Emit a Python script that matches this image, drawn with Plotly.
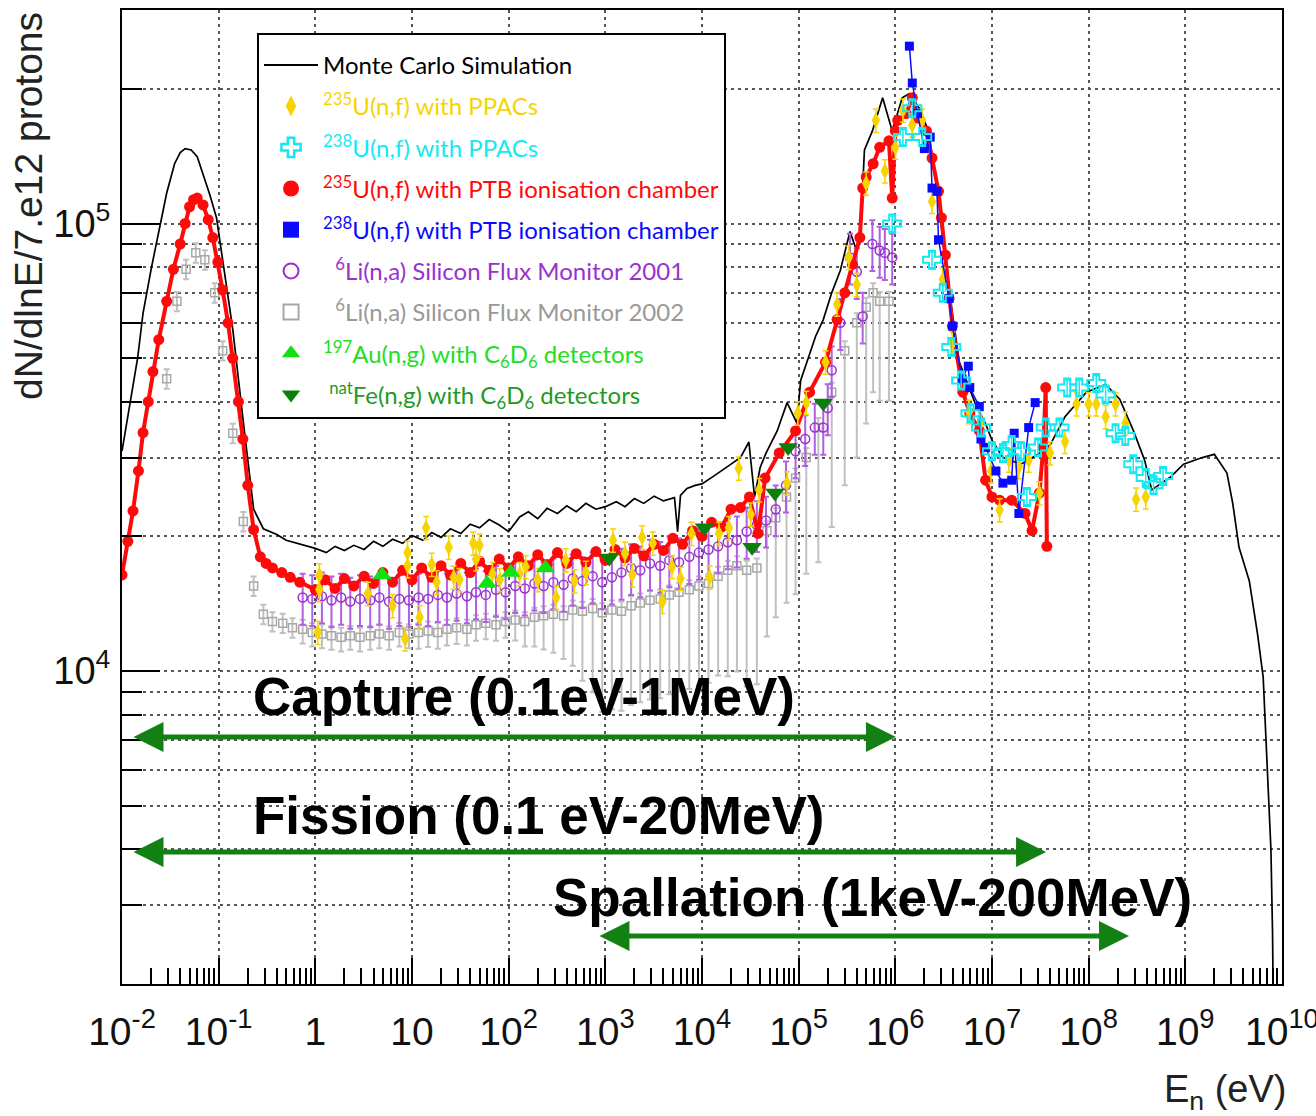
import plotly.graph_objects as go

# Monte Carlo simulation (black line)
mc_energy = [0.010, 0.012, 0.0145, 0.0165, 0.020, 0.025, 0.029, 0.035, 0.040, 0.045, 0.052, 0.060,
             0.070, 0.081, 0.095, 0.11, 0.14, 0.18, 0.23, 0.29, 0.40, 0.50, 0.70,
             1.0, 1.3, 1.6, 2.0, 2.5, 3.2, 4.0, 5.0, 6.3, 8.0, 10, 13, 16, 20, 25, 32, 40, 50, 63, 80,
             100, 130, 160, 200, 250, 320, 400, 500, 630, 800, 1000, 1300, 1600, 2000, 2500, 3200,
             4000, 5200, 5600, 6000, 7000, 8500, 1.0e4, 1.3e4, 1.6e4, 2.0e4, 2.5e4, 3.06e4, 3.5e4,
             4.0e4, 4.6e4, 6.0e4, 7.6e4, 9.6e4, 1.05e5, 1.25e5, 1.5e5, 1.8e5, 2.2e5, 2.7e5, 3.4e5,
             3.9e5, 4.3e5, 4.8e5, 5.8e5, 7.4e5, 8.3e5, 9.3e5, 1.18e6, 1.4e6, 1.8e6, 2.2e6, 2.8e6,
             3.3e6, 4.6e6, 6.7e6, 8.6e6, 1.0e7, 1.3e7, 2.0e7, 3.0e7, 4.0e7, 5.7e7, 9.5e7, 1.5e8,
             2.1e8, 2.9e8, 3.8e8, 4.5e8, 7.0e8, 9.6e8, 1.5e9, 2.0e9, 2.7e9, 3.1e9, 3.6e9, 4.6e9,
             5.6e9, 6.4e9, 7.0e9, 7.7e9, 8.0e9, 8.1e9]
mc_flux = [3.1e4, 3.9e4, 5.0e4, 6.3e4, 7.9e4, 1.0e5, 1.17e5, 1.36e5, 1.44e5, 1.47e5, 1.46e5, 1.41e5,
           1.28e5, 1.16e5, 1.03e5, 8.3e4, 5.8e4, 3.6e4, 2.3e4, 2.08e4, 2.02e4, 1.96e4, 1.92e4,
           1.88e4, 1.84e4, 1.90e4, 1.86e4, 1.91e4, 1.87e4, 1.95e4, 1.90e4, 1.97e4, 1.93e4, 2.01e4,
           1.96e4, 2.04e4, 1.99e4, 2.08e4, 2.03e4, 2.13e4, 2.09e4, 2.18e4, 2.12e4,
           2.05e4, 2.21e4, 2.27e4, 2.19e4, 2.31e4, 2.25e4, 2.34e4, 2.27e4, 2.37e4, 2.30e4, 2.33e4,
           2.39e4, 2.33e4, 2.43e4, 2.37e4, 2.46e4,
           2.40e4, 2.44e4, 2.05e4, 2.47e4, 2.56e4, 2.60e4, 2.62e4, 2.72e4, 2.80e4, 2.90e4, 3.00e4,
           3.25e4, 2.45e4,
           2.85e4, 3.07e4, 3.44e4, 3.98e4, 3.58e4, 4.46e4, 5.0e4, 5.6e4, 6.1e4, 7.0e4, 7.85e4, 9.6e4,
           8.8e4, 9.0e4, 1.46e5, 1.61e5, 1.91e5, 1.76e5, 1.61e5, 1.91e5, 1.95e5, 1.80e5, 1.61e5,
           1.14e5, 8.1e4, 4.9e4, 3.97e4, 3.57e4, 3.28e4, 3.0e4, 2.9e4, 3.05e4, 3.2e4, 3.7e4, 4.2e4,
           4.37e4, 4.05e4, 3.45e4, 2.96e4, 2.54e4, 2.71e4, 2.9e4, 3.0e4, 3.05e4, 2.77e4, 2.37e4,
           1.89e4, 1.59e4, 1.21e4, 9.7e3, 6.2e3, 4.0e3, 2.6e3, 2.0e3]

# 235U(n,f) with PTB ionisation chamber (red)
red_energy = [0.010, 0.0115, 0.013, 0.0148, 0.0165, 0.0187, 0.0209, 0.024, 0.029, 0.034, 0.040,
              0.045, 0.050, 0.055, 0.060, 0.069, 0.078, 0.087, 0.098, 0.11, 0.125, 0.14, 0.16,
              0.178, 0.20, 0.23, 0.27, 0.31, 0.36, 0.45, 0.55, 0.69,
              1.0, 1.26, 1.6, 2.0, 2.5, 3.2, 4.0, 5.0, 6.3, 8.0, 10, 12.6, 16, 20, 25, 32, 40, 50,
              63, 80, 100, 126, 160, 200, 250, 320, 400, 500, 630, 800, 1000, 1260, 1600, 2000,
              2500, 3200, 4000, 5000, 6300, 8000, 1.0e4, 1.26e4, 1.6e4, 2.0e4, 2.5e4, 3.1e4, 3.8e4,
              4.5e4, 6.3e4, 9.3e4, 1.3e5, 1.9e5, 2.5e5, 3.0e5, 3.6e5, 4.3e5, 4.6e5, 5.0e5, 5.9e5,
              6.9e5, 8.6e5, 9.3e5, 1.0e6, 1.06e6, 1.3e6, 1.5e6, 1.7e6, 2.1e6, 2.4e6, 2.8e6, 3.0e6,
              3.3e6, 3.6e6, 3.9e6, 5.0e6, 5.9e6, 7.4e6, 8.6e6, 1.0e7, 1.2e7, 1.6e7, 2.2e7, 2.6e7,
              3.1e7, 3.4e7, 3.6e7, 3.7e7]
red_flux = [1.64e4, 1.95e4, 2.28e4, 2.8e4, 3.41e4, 4.0e4, 4.67e4, 5.5e4, 6.7e4, 7.9e4, 9.0e4,
            1.0e5, 1.09e5, 1.13e5, 1.14e5, 1.10e5, 1.02e5, 9.3e4, 8.2e4, 7.1e4, 6.0e4, 5.0e4, 4.0e4,
            3.3e4, 2.6e4, 2.07e4, 1.80e4, 1.74e4, 1.70e4, 1.66e4, 1.62e4, 1.58e4,
            1.52e4, 1.60e4, 1.53e4, 1.61e4, 1.55e4, 1.63e4, 1.57e4, 1.66e4, 1.58e4, 1.68e4, 1.60e4,
            1.70e4, 1.62e4, 1.72e4, 1.64e4, 1.74e4, 1.66e4, 1.76e4, 1.68e4, 1.78e4, 1.70e4, 1.80e4,
            1.72e4, 1.82e4, 1.73e4, 1.84e4, 1.74e4, 1.83e4, 1.75e4, 1.85e4, 1.77e4, 1.87e4, 1.79e4,
            1.88e4, 1.81e4, 1.92e4, 1.86e4, 1.98e4, 1.92e4, 2.06e4, 2.0e4, 2.15e4, 2.1e4, 2.3e4,
            2.32e4, 2.45e4, 2.03e4, 2.7e4, 3.07e4, 3.44e4, 4.2e4, 4.9e4, 6.1e4, 7.0e4, 8.1e4, 9.3e4,
            1.20e5, 1.27e5, 1.36e5, 1.48e5, 1.53e5, 1.14e5, 1.61e5, 1.70e5, 1.76e5, 1.91e5, 1.72e5,
            1.61e5, 1.40e5, 1.18e5, 1.03e5, 8.5e4, 6.8e4, 5.9e4, 4.2e4, 3.77e4, 3.45e4, 2.67e4,
            2.45e4, 2.41e4, 2.41e4, 2.25e4, 2.06e4, 2.5e4, 3.16e4, 4.3e4, 1.9e4]

# 238U(n,f) with PTB ionisation chamber (blue)
blue_energy = [1.4e6, 1.5e6, 1.7e6, 2.0e6, 2.3e6, 2.4e6, 2.7e6, 2.8e6, 3.6e6, 3.9e6, 4.9e6, 5.7e6,
               5.9e6, 7.4e6, 7.7e6, 8.6e6, 1.1e7, 1.3e7, 1.6e7, 1.7e7, 1.9e7, 2.4e7, 2.8e7]
blue_flux = [2.49e5, 2.06e5, 1.76e5, 1.47e5, 1.56e5, 1.20e5, 1.18e5, 9.2e4, 6.8e4, 5.9e4, 4.5e4,
             4.8e4, 4.3e4, 3.9e4, 3.3e4, 3.16e4, 2.8e4, 2.63e4, 2.67e4, 3.4e4, 2.25e4, 3.5e4, 3.98e4]

# 235U(n,f) with PPACs (yellow)
yellow_energy = [1.06, 1.1, 1.1, 3.5, 6.3, 8.5, 9.0, 9.0, 12, 14, 16, 18, 24, 27, 31, 43, 46, 50,
                 68, 81, 130, 150, 200, 310, 390, 480, 630, 1200, 1600, 1900, 2400, 3100, 3900,
                 4900, 6000, 7800, 1.2e4, 1.5e4, 1.9e4, 2.4e4, 3.2e4, 3.9e4, 7.6e4, 9.8e4, 1.2e5,
                 1.9e5, 2.5e5, 3.3e5, 4.0e5, 5.0e5, 6.3e5, 7.8e5, 1.0e6, 1.2e6, 1.5e6, 1.9e6, 2.4e6,
                 3.1e6, 3.9e6, 5.8e6, 7.7e6, 9.8e6, 1.2e7, 1.5e7, 1.9e7, 2.4e7, 3.1e7, 4.0e7, 5.7e7,
                 7.5e7, 1.0e8, 1.2e8, 1.5e8, 1.9e8, 2.4e8, 3.1e8, 3.9e8]
yellow_flux = [1.22e4, 1.52e4, 1.64e4, 1.49e4, 1.40e4, 1.18e4, 1.72e4, 1.84e4, 1.32e4, 2.09e4,
               1.73e4, 1.58e4, 1.89e4, 1.62e4, 1.60e4, 1.93e4, 1.78e4, 1.91e4, 1.65e4, 1.60e4,
               1.65e4, 1.71e4, 1.60e4, 1.46e4, 1.77e4, 1.59e4, 1.66e4, 1.96e4, 1.83e4, 1.64e4,
               1.99e4, 1.93e4, 1.43e4, 1.71e4, 1.61e4, 2.03e4, 1.62e4, 2.03e4, 2.09e4, 2.84e4,
               2.24e4, 2.54e4, 2.63e4, 3.77e4, 3.98e4, 4.9e4, 6.6e4, 8.4e4, 7.3e4, 1.23e5, 1.70e5,
               1.31e5, 1.48e5, 1.79e5, 1.66e5, 1.70e5, 1.12e5, 7.5e4, 5.4e4, 3.8e4, 3.6e4, 2.8e4,
               2.29e4, 2.96e4, 2.86e4, 2.96e4, 2.5e4, 3.07e4, 3.26e4, 3.95e4, 3.95e4, 3.95e4,
               3.7e4, 3.95e4, 3.58e4, 2.42e4, 2.45e4]

# 238U(n,f) with PPACs (cyan)
cyan_energy = [9.3e5, 1.2e6, 1.5e6, 1.9e6, 2.4e6, 3.1e6, 3.8e6, 4.8e6, 6.0e6, 7.7e6, 1.0e7, 1.3e7,
               1.6e7, 2.0e7, 2.3e7, 3.0e7, 3.6e7, 5.0e7, 6.0e7, 8.0e7, 1.2e8, 1.5e8, 1.9e8, 2.4e8,
               2.9e8, 3.9e8, 4.7e8, 5.9e8]
cyan_flux = [1.0e5, 1.56e5, 1.81e5, 1.56e5, 8.3e4, 7.0e4, 5.3e4, 4.46e4, 3.77e4, 3.5e4, 3.1e4,
             3.07e4, 3.2e4, 3.1e4, 2.45e4, 3.16e4, 3.5e4, 3.5e4, 4.3e4, 4.3e4, 4.4e4, 4.15e4, 3.4e4,
             3.35e4, 2.9e4, 2.7e4, 2.6e4, 2.73e4]

# 6Li(n,a) Silicon Flux Monitor 2001 (purple)
purple_energy = [0.74, 0.93, 1.17, 1.47, 1.85, 2.3, 2.9, 3.7, 4.6, 5.8, 7.4, 9.3, 11.7, 14.7, 18.5,
                 23, 29, 37, 46, 58, 74, 93, 117, 147, 185, 230, 290, 370, 460, 580, 740, 930, 1170,
                 1470, 1850, 2300, 2900, 3700, 4600, 5800, 7400, 9300, 1.17e4, 1.47e4, 1.85e4,
                 2.3e4, 2.9e4, 3.7e4, 4.6e4, 5.8e4, 7.4e4, 9.3e4, 1.17e5, 1.47e5, 1.8e5, 2.0e5,
                 2.2e5, 2.7e5, 3.4e5, 4.0e5, 4.6e5, 5.8e5, 6.9e5, 7.8e5, 9.3e5]
purple_flux = [1.46e4, 1.45e4, 1.47e4, 1.44e4, 1.46e4, 1.43e4, 1.45e4, 1.44e4, 1.46e4, 1.43e4,
               1.45e4, 1.44e4, 1.46e4, 1.45e4, 1.48e4, 1.46e4, 1.49e4, 1.47e4, 1.50e4, 1.48e4,
               1.52e4, 1.50e4, 1.55e4, 1.53e4, 1.57e4, 1.55e4, 1.58e4, 1.56e4, 1.61e4, 1.59e4,
               1.63e4, 1.58e4, 1.62e4, 1.66e4, 1.70e4, 1.68e4, 1.74e4, 1.72e4, 1.77e4, 1.75e4,
               1.80e4, 1.84e4, 1.87e4, 1.90e4, 1.94e4, 1.96e4, 2.05e4, 2.12e4, 2.17e4, 2.30e4,
               2.6e4, 3.1e4, 3.3e4, 3.5e4, 3.5e4, 3.87e4, 4.7e4, 6.0e4, 8.4e4, 7.8e4, 6.2e4, 9.0e4,
               8.7e4, 8.6e4, 8.4e4]

# 6Li(n,a) Silicon Flux Monitor 2002 (grey), with asymmetric relative errors
grey_energy = [0.029, 0.037, 0.046, 0.058, 0.072, 0.091, 0.11, 0.14, 0.18, 0.23, 0.29, 0.36, 0.46,
               0.58, 0.74, 0.93, 1.17, 1.47, 1.85, 2.3, 2.9, 3.7, 4.6, 5.8, 7.4, 9.3, 11.7, 14.7,
               18.5, 23, 29, 37, 46, 58, 74, 93, 117, 147, 185, 230, 290, 370, 460, 580, 740, 930,
               1170, 1470, 1850, 2300, 2900, 3700, 4600, 5800, 7400, 9300, 1.17e4, 1.47e4, 1.85e4,
               2.3e4, 2.9e4, 3.7e4, 4.7e4, 5.8e4, 7.5e4, 9.3e4, 1.2e5, 1.6e5, 2.2e5, 3.0e5, 4.0e5,
               5.0e5, 5.9e5, 6.9e5, 8.6e5]
grey_flux = [4.5e4, 6.7e4, 7.9e4, 8.6e4, 8.3e4, 7.0e4, 5.2e4, 3.4e4, 2.16e4, 1.55e4, 1.34e4, 1.29e4,
             1.28e4, 1.25e4,
             1.24e4, 1.22e4, 1.21e4, 1.20e4, 1.19e4, 1.20e4, 1.19e4, 1.20e4, 1.21e4, 1.20e4, 1.22e4,
             1.21e4,
             1.22e4, 1.23e4, 1.22e4, 1.24e4, 1.25e4, 1.24e4, 1.27e4, 1.28e4, 1.27e4, 1.29e4,
             1.30e4, 1.29e4, 1.32e4, 1.33e4, 1.34e4, 1.33e4, 1.37e4, 1.36e4, 1.38e4, 1.35e4,
             1.37e4, 1.36e4, 1.40e4, 1.42e4, 1.44e4, 1.45e4, 1.48e4, 1.50e4, 1.52e4, 1.55e4,
             1.57e4, 1.63e4, 1.68e4, 1.72e4, 1.68e4, 1.70e4, 2.06e4, 2.2e4, 2.45e4, 2.7e4,
             3.0e4, 3.5e4, 4.2e4, 5.2e4, 6.0e4, 6.5e4, 7.0e4, 6.7e4, 6.7e4]
grey_err_low = [0.05] * 14 + [0.07] * 12 + [0.08] * 10 + \
               [0.10, 0.12, 0.14, 0.16, 0.18, 0.20, 0.25, 0.30, 0.35, 0.40] + [0.40] * 10 + \
               [0.40, 0.40, 0.42, 0.42, 0.45, 0.45, 0.42, 0.40, 0.42, 0.45] + \
               [0.45, 0.50, 0.50, 0.50, 0.50, 0.45, 0.40, 0.40, 0.40]
grey_err_high = [0.05] * 75

# 197Au(n,g) and natFe(n,g) with C6D6 detectors
au_energy = [4.9, 60, 105, 240]
au_flux = [1.64e4, 1.57e4, 1.66e4, 1.70e4]
fe_energy = [1.1e3, 1.06e4, 3.3e4, 5.7e4, 7.8e4, 1.8e5]
fe_flux = [1.79e4, 2.09e4, 1.89e4, 2.5e4, 3.16e4, 3.97e4]

# axis ticks
x_tickvals = [1e-2, 1e-1, 1, 10, 1e2, 1e3, 1e4, 1e5, 1e6, 1e7, 1e8, 1e9, 1e10]
x_ticktext = ['10<sup>-2</sup>', '10<sup>-1</sup>', '1', '10', '10<sup>2</sup>', '10<sup>3</sup>',
              '10<sup>4</sup>', '10<sup>5</sup>', '10<sup>6</sup>', '10<sup>7</sup>',
              '10<sup>8</sup>', '10<sup>9</sup>', '10<sup>10</sup>']
y_tickvals = [1e4, 1e5]
y_ticktext = ['10<sup>4</sup>', '10<sup>5</sup>']

YELLOW = '#f5d400'
CYAN = '#14e8f0'
RED = '#ff0a0a'
BLUE = '#0a0aff'
PURPLE = '#9932cc'
GREY = '#a8a8a8'
LGREEN = '#11e011'
DGREEN = '#0a800a'
ARROW = '#128012'

AXFONT = 'Liberation Sans, Arial'
GRID = dict(showgrid=True, gridcolor='#555555', gridwidth=1.5, griddash='3px,4px')

fig = go.Figure()

fig.add_trace(go.Scatter(x=mc_energy, y=mc_flux, mode='lines', showlegend=False,
                         line=dict(color='black', width=1.7)))
fig.add_trace(go.Scatter(
    x=grey_energy, y=grey_flux, mode='markers', showlegend=False,
    marker=dict(symbol='square-open', size=8, color=GREY, line=dict(width=1.5)),
    error_y=dict(type='data', symmetric=False,
                 array=[v * f for v, f in zip(grey_flux, grey_err_high)],
                 arrayminus=[v * f for v, f in zip(grey_flux, grey_err_low)],
                 color='#c0c0c0', thickness=2, width=3)))
fig.add_trace(go.Scatter(
    x=purple_energy, y=purple_flux, mode='markers', showlegend=False,
    marker=dict(symbol='circle-open', size=9, color=PURPLE, line=dict(width=1.5)),
    error_y=dict(type='percent', value=13, color='#b060e0', thickness=2, width=3)))
fig.add_trace(go.Scatter(
    x=red_energy, y=red_flux, mode='lines+markers', showlegend=False,
    line=dict(color=RED, width=4),
    marker=dict(symbol='circle', size=11, color=RED)))
fig.add_trace(go.Scatter(
    x=yellow_energy, y=yellow_flux, mode='markers', showlegend=False,
    marker=dict(symbol='diamond-tall', size=12, color=YELLOW),
    error_y=dict(type='percent', value=6, color=YELLOW, thickness=1.5, width=3)))
fig.add_trace(go.Scatter(
    x=blue_energy, y=blue_flux, mode='lines+markers', showlegend=False,
    line=dict(color=BLUE, width=1.5),
    marker=dict(symbol='square', size=9, color=BLUE)))
fig.add_trace(go.Scatter(
    x=cyan_energy, y=cyan_flux, mode='markers', showlegend=False,
    marker=dict(symbol='cross-open', size=15, color=CYAN, line=dict(width=2)),
    error_y=dict(type='percent', value=4, color=CYAN, thickness=1.5, width=3)))
fig.add_trace(go.Scatter(
    x=au_energy, y=au_flux, mode='markers', showlegend=False,
    marker=dict(symbol='triangle-up', size=17, color=LGREEN)))
fig.add_trace(go.Scatter(
    x=fe_energy, y=fe_flux, mode='markers', showlegend=False,
    marker=dict(symbol='triangle-down', size=17, color=DGREEN)))

# legend entries (larger symbols than in the plot, as in the original)
legend_items = [
    ('Monte Carlo Simulation', 'black', None),
    ('<sup>235</sup>U(n,f) with PPACs', YELLOW, dict(symbol='diamond-tall', size=15, color=YELLOW)),
    ('<sup>238</sup>U(n,f) with PPACs', CYAN,
     dict(symbol='cross-open', size=16, color=CYAN, line=dict(width=2.5))),
    ('<sup>235</sup>U(n,f) with PTB ionisation chamber', RED,
     dict(symbol='circle', size=16, color=RED)),
    ('<sup>238</sup>U(n,f) with PTB ionisation chamber', BLUE,
     dict(symbol='square', size=16, color=BLUE)),
    ('\u00a0\u00a0<sup>6</sup>Li(n,a) Silicon Flux Monitor 2001', PURPLE,
     dict(symbol='circle-open', size=15, color=PURPLE, line=dict(width=2))),
    ('\u00a0\u00a0<sup>6</sup>Li(n,a) Silicon Flux Monitor 2002', '#999999',
     dict(symbol='square-open', size=15, color=GREY, line=dict(width=2))),
    ('<sup>197</sup>Au(n,g) with C<sub>6</sub>D<sub>6</sub> detectors', '#22dd22',
     dict(symbol='triangle-up', size=16, color=LGREEN)),
    ('\u00a0<sup>nat</sup>Fe(n,g) with C<sub>6</sub>D<sub>6</sub> detectors', '#1f9a1f',
     dict(symbol='triangle-down', size=16, color=DGREEN)),
]
for i, (label, col, mk) in enumerate(legend_items):
    name = '<span style="color:%s">%s</span>' % (col, label)
    if mk is None:
        fig.add_trace(go.Scatter(x=[None], y=[None], mode='lines', name=name,
                                 line=dict(color='black', width=2), legendgroup=str(i)))
    else:
        fig.add_trace(go.Scatter(x=[None], y=[None], mode='markers', name=name,
                                 marker=mk, legendgroup=str(i)))

x_minor = [k * 10.0 ** d for d in range(-2, 10) for k in range(2, 10)]
y_minor = [k * 10.0 ** d for d in range(3, 6) for k in range(2, 10)]

fig.update_layout(
    width=1316, height=1116,
    margin=dict(t=10, l=122, r=34, b=132),
    plot_bgcolor='white', paper_bgcolor='white',
    xaxis=dict(type='log', range=[-2, 10.001], tickmode='array', tickvals=x_tickvals,
               ticktext=x_ticktext, ticks='inside', ticklen=26, tickwidth=1.5,
               tickcolor='black', showline=True, linecolor='black', linewidth=2, mirror=True,
               tickfont=dict(family=AXFONT, size=39, color='#111111'), zeroline=False,
               automargin=False, ticklabelstandoff=12, ticklabeloverflow='allow',
               minor=dict(tickmode='array', tickvals=x_minor, ticks='inside', ticklen=16,
                          tickwidth=1.5, tickcolor='black', showgrid=False),
               **GRID),
    yaxis=dict(type='log', range=[3.301, 5.477], tickmode='array', tickvals=y_tickvals,
               ticktext=y_ticktext, ticks='inside', ticklen=38, tickwidth=1.5,
               tickcolor='black', showline=True, linecolor='black', linewidth=2, mirror=True,
               tickfont=dict(family=AXFONT, size=38, color='#111111'), zeroline=False,
               automargin=False, ticklabelstandoff=2,
               minor=dict(tickmode='array', tickvals=y_minor, ticks='inside', ticklen=20,
                          tickwidth=1.5, tickcolor='black', showgrid=True, gridcolor='#555555',
                          gridwidth=1.5, griddash='3px,4px'),
               **GRID),
    legend=dict(x=0.1164, y=0.9764, xanchor='left', yanchor='top', bgcolor='white',
                bordercolor='black', borderwidth=2, font=dict(family='Lato', size=24),
                tracegroupgap=7, itemwidth=54, traceorder='grouped',
                title=dict(text='\u00a0', font=dict(size=6))),
)

annotations = [
    dict(text='dN/dlnE/7.e12 protons', xref='paper', yref='paper', x=-0.081, y=1.0,
         xanchor='center', yanchor='top', textangle=-90, showarrow=False,
         font=dict(family='Liberation Sans, Arial', size=39, color='#222222')),
    dict(text='E<sub>n</sub> (eV)', xref='paper', yref='paper', x=1.006, y=-0.111,
         xanchor='right', yanchor='middle', showarrow=False,
         font=dict(family=AXFONT, size=38, color='#222222')),
]
labels = [('Capture (0.1eV-1MeV)', 0.1112, 0.2947),
          ('Fission (0.1 eV-20MeV)', 0.1112, 0.1735),
          ('Spallation (1keV-200MeV)', 0.3700, 0.0893)]
for txt, lx, ly in labels:
    annotations.append(dict(text='<b>%s</b>' % txt, xref='paper', yref='paper', x=lx, y=ly,
                            xanchor='left', yanchor='middle', showarrow=False,
                            font=dict(family='Liberation Sans, Arial', size=53, color='black')))
arrows = [(0.0086, 0.6672, 0.2536), (0.0086, 0.7966, 0.1355), (0.4103, 0.8681, 0.0493)]
for a0, a1, ay in arrows:
    annotations.append(dict(text='', xref='x domain', yref='y domain', x=a1, y=ay,
                            axref='x domain', ayref='y domain', ax=a0, ay=ay,
                            showarrow=True, arrowhead=2, arrowside='end+start', arrowsize=1.2,
                            arrowwidth=5, arrowcolor=ARROW))
fig.update_layout(annotations=annotations)

# the page's default body margin would shift the 1316x1116 figure off the window
fig.write_html('out.html', config={'displayModeBar': False},
               post_script="document.body.style.margin='0';")
